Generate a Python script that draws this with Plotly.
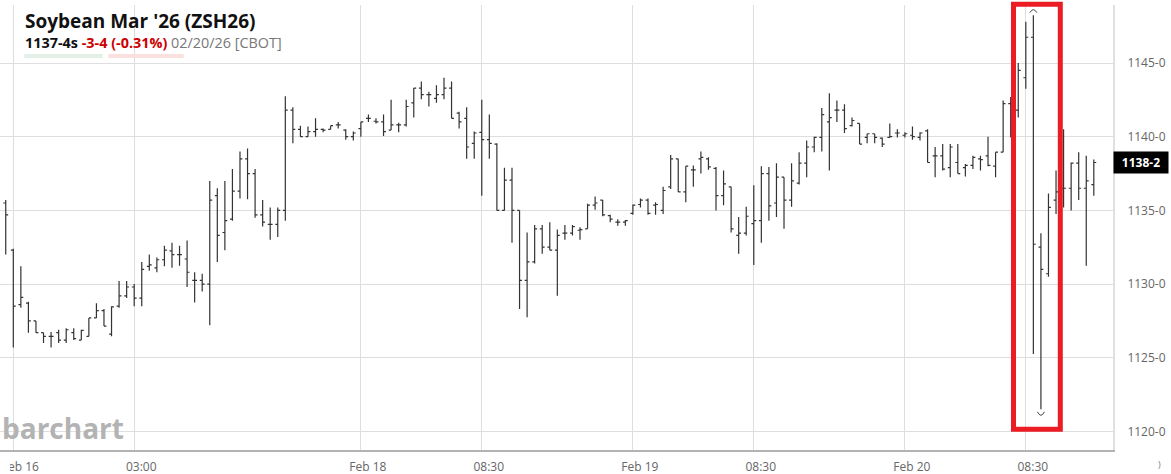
import plotly.graph_objects as go

# ---------------- data (30-minute bars, slot index; slot 0 = Feb 16 19:00) ----------------
bar_slot = list(range(-1, 144))

opens = [1135.5, 1132.3, 1128.6, 1128.7, 1127.5, 1126.7, 1126.45, 1126.7, 1126.2, 1126.7,
         1126.2, 1126.45, 1127.7, 1128.2, 1126.6, 1128.5, 1129.2, 1129.8, 1129.05, 1131.2,
         1131.1, 1131.65, 1132.25, 1132.0, 1131.7, 1130.25, 1130.25, 1130.0, 1136.0, 1133.5,
         1134.4, 1136.3, 1138.5, 1137.5, 1134.7, 1134.05, 1134.05, 1135.0, 1141.8, 1140.5,
         1140.0, 1140.35, 1140.5, 1140.5, 1140.8, 1140.45, 1140.0, 1140.55, 1141.25, 1141.05,
         1141.0, 1140.45, 1140.8, 1140.8, 1142.3, 1143.3, 1142.85, 1142.6, 1142.85, 1143.3,
         1141.6, 1141.25, 1139.55, 1140.3, 1139.8, 1139.5, 1135.0, 1137.05, 1135.0, 1130.25,
         1131.5, 1133.75, 1132.5, 1132.3, 1133.45, 1133.45, 1133.65, 1133.75, 1135.35, 1135.7,
         1134.65, 1134.2, 1134.2, 1134.8, 1135.4, 1135.7, 1135.35, 1135.0, 1136.6, 1138.5,
         1136.25, 1137.75, 1138.5, 1138.5, 1137.85, 1136.0, 1136.6, 1133.3, 1133.45, 1134.1,
         1134.3, 1137.5, 1135.5, 1137.25, 1135.7, 1136.85, 1138.2, 1139.3, 1139.95, 1141.0,
         1141.8, 1141.8, 1140.75, 1140.9, 1139.95, 1140.2, 1139.9, 1139.95, 1140.25, 1140.1,
         1140.1, 1139.95, 1140.4, 1138.7, 1138.7, 1137.9, 1138.25, 1137.9, 1138.05, 1138.5,
         1138.7, 1138.0, 1138.95, 1142.25, 1141.8, 1144.0, 1146.75, 1132.5, 1130.7, 1135.7,
         1136.5, 1136.5, 1138.2, 1136.5, 1136.75]

highs = [1135.7, 1132.4, 1131.2, 1128.8, 1127.5, 1126.7, 1126.75, 1126.9, 1127.0, 1127.0,
         1126.9, 1127.7, 1128.7, 1128.3, 1128.5, 1130.2, 1130.2, 1130.0, 1131.5, 1132.0,
         1131.8, 1132.6, 1132.8, 1132.6, 1132.95, 1130.8, 1130.7, 1137.0, 1136.5, 1137.0,
         1137.8, 1139.0, 1139.2, 1137.8, 1135.7, 1135.2, 1135.2, 1142.75, 1142.0, 1140.75,
         1140.7, 1141.25, 1140.55, 1140.75, 1141.0, 1140.5, 1140.35, 1141.0, 1141.5, 1141.25,
         1141.5, 1142.5, 1140.95, 1142.5, 1143.3, 1143.75, 1143.05, 1143.5, 1144.0, 1143.75,
         1141.7, 1142.0, 1140.35, 1142.5, 1141.5, 1139.55, 1137.9, 1137.9, 1135.0, 1133.5,
         1134.0, 1134.0, 1134.2, 1133.7, 1134.0, 1134.0, 1133.85, 1135.45, 1135.95, 1135.7,
         1134.7, 1134.4, 1134.35, 1135.4, 1135.8, 1135.8, 1135.55, 1136.6, 1138.75, 1138.5,
         1138.0, 1138.05, 1139.0, 1138.6, 1137.95, 1137.7, 1136.6, 1134.55, 1135.25, 1136.7,
         1138.0, 1137.95, 1138.2, 1137.25, 1138.2, 1138.95, 1139.75, 1140.0, 1141.95, 1142.95,
         1142.45, 1142.2, 1141.3, 1140.9, 1140.2, 1140.2, 1139.95, 1140.9, 1140.5, 1140.3,
         1140.7, 1140.3, 1140.5, 1139.3, 1139.5, 1139.5, 1139.5, 1138.15, 1138.7, 1138.7,
         1140.0, 1138.95, 1142.45, 1142.7, 1145.0, 1147.8, 1148.25, 1133.45, 1136.15, 1137.7,
         1140.5, 1138.25, 1138.95, 1138.7, 1138.45]

lows = [1132.0, 1125.7, 1128.4, 1126.7, 1126.7, 1126.0, 1125.7, 1126.0, 1126.0, 1126.2,
        1126.2, 1126.45, 1127.7, 1127.15, 1126.45, 1128.4, 1129.05, 1128.5, 1128.5, 1130.9,
        1130.8, 1131.2, 1131.1, 1131.25, 1129.8, 1128.75, 1129.5, 1127.2, 1131.5, 1132.3,
        1134.3, 1135.8, 1135.75, 1134.5, 1133.9, 1133.0, 1133.2, 1134.3, 1139.55, 1140.0,
        1140.0, 1140.0, 1140.3, 1140.5, 1140.55, 1139.8, 1139.75, 1140.0, 1141.0, 1140.9,
        1140.05, 1140.45, 1140.3, 1140.7, 1141.3, 1142.55, 1142.05, 1142.3, 1142.55, 1141.25,
        1140.55, 1138.5, 1138.5, 1136.0, 1138.5, 1135.0, 1135.0, 1132.8, 1128.3, 1127.75,
        1131.4, 1132.05, 1132.3, 1129.2, 1133.0, 1133.3, 1133.0, 1133.75, 1135.05, 1134.6,
        1134.2, 1133.95, 1133.95, 1134.7, 1135.2, 1134.7, 1134.7, 1134.75, 1136.45, 1136.25,
        1135.55, 1136.6, 1137.5, 1137.75, 1135.0, 1135.35, 1133.5, 1132.05, 1133.3, 1131.3,
        1132.8, 1134.3, 1134.55, 1133.75, 1135.25, 1136.75, 1137.25, 1138.95, 1139.0, 1137.7,
        1141.0, 1140.25, 1140.7, 1139.5, 1139.55, 1139.55, 1139.3, 1139.95, 1139.95, 1139.95,
        1139.8, 1139.75, 1138.25, 1137.25, 1137.7, 1137.25, 1137.5, 1137.3, 1137.8, 1137.7,
        1138.0, 1137.25, 1138.95, 1139.95, 1141.3, 1143.25, 1125.25, 1121.5, 1130.5, 1134.75,
        1135.2, 1135.0, 1135.7, 1131.25, 1136.0]

closes = [1134.7, 1128.5, 1129.1, 1127.5, 1126.7, 1126.45, 1126.45, 1126.2, 1126.9, 1126.3,
          1126.85, 1127.7, 1128.2, 1127.15, 1128.45, 1129.2, 1129.8, 1129.05, 1131.0, 1131.3,
          1131.65, 1132.3, 1132.0, 1132.0, 1130.8, 1130.25, 1130.0, 1135.7, 1133.3, 1134.3,
          1136.3, 1138.5, 1137.5, 1134.7, 1134.2, 1134.05, 1135.0, 1141.8, 1140.5, 1140.0,
          1140.35, 1140.5, 1140.45, 1140.75, 1140.8, 1140.0, 1140.25, 1141.0, 1141.25, 1141.0,
          1140.35, 1140.8, 1140.8, 1142.05, 1143.3, 1142.85, 1142.85, 1142.85, 1143.3, 1141.25,
          1141.0, 1139.3, 1140.25, 1139.8, 1139.55, 1135.0, 1137.05, 1135.0, 1130.25, 1131.5,
          1133.75, 1132.5, 1132.3, 1133.3, 1133.45, 1133.9, 1133.7, 1135.35, 1135.5, 1134.7,
          1134.4, 1134.2, 1134.3, 1135.35, 1135.7, 1134.8, 1135.4, 1136.35, 1138.5, 1136.25,
          1138.0, 1137.75, 1138.6, 1137.95, 1136.0, 1136.8, 1133.75, 1133.45, 1134.6, 1134.3,
          1137.5, 1135.3, 1137.25, 1135.7, 1137.0, 1138.2, 1139.3, 1139.95, 1141.5, 1141.3,
          1141.8, 1140.55, 1141.1, 1139.5, 1140.2, 1139.95, 1139.5, 1140.0, 1140.25, 1140.2,
          1140.0, 1140.25, 1138.25, 1138.7, 1137.8, 1139.3, 1137.5, 1138.05, 1138.6, 1138.45,
          1138.05, 1138.95, 1142.25, 1141.5, 1144.5, 1146.75, 1132.7, 1131.0, 1135.2, 1136.25,
          1136.5, 1138.2, 1136.5, 1137.0, 1138.25]

x_tick_slots = [0, 16, 46, 62, 82, 98, 118, 134]
x_tick_labels = ["Feb 16", "03:00", "Feb 18", "08:30", "Feb 19", "08:30", "Feb 20", "08:30"]

y_tick_values = [1120, 1125, 1130, 1135, 1140, 1145]
y_tick_labels = ["1120-0", "1125-0", "1130-0", "1135-0", "1140-0", "1145-0"]

title_text = "Soybean Mar '26 (ZSH26)"
last_text = "1137-4s"
change_text = "-3-4 (-0.31%)"
date_text = "02/20/26 [CBOT]"


def fmt_eighths(v):
    whole = int(v)
    return f"{whole}-{int(round((v - whole) * 8))}"


# ---------------- layout geometry (pixels) ----------------
W, H = 1171, 474
PL, PR, PT, PB = 0, 1113, 5, 450
PW, PH = PR - PL, PB - PT


def px(x):
    return (x - PL) / PW


def py(y):
    return (PB - y) / PH


FONT = "Open Sans"
BAR = "#333333"
GRID = "#dedede"

fig = go.Figure()
fig.add_trace(go.Ohlc(
    x=bar_slot, open=opens, high=highs, low=lows, close=closes,
    increasing=dict(line=dict(color=BAR, width=1.2)),
    decreasing=dict(line=dict(color=BAR, width=1.2)),
    tickwidth=0.32, showlegend=False, hoverinfo="skip",
))

shapes = []
# red highlight box
shapes.append(dict(type="rect", xref="paper", yref="paper",
                   x0=px(1013.5), x1=px(1060.3), y0=py(429.2), y1=py(4.2),
                   line=dict(color="#ec1c24", width=5), fillcolor="rgba(0,0,0,0)", layer="above"))
# header underline pills
shapes.append(dict(type="rect", xref="paper", yref="paper",
                   x0=px(24.3), x1=px(102.7), y0=py(58), y1=py(54),
                   line=dict(width=0), fillcolor="#e4efe8", layer="above"))
shapes.append(dict(type="rect", xref="paper", yref="paper",
                   x0=px(108.3), x1=px(183.7), y0=py(58), y1=py(54),
                   line=dict(width=0), fillcolor="#fbe0e0", layer="above"))
# highest high / lowest low markers
hi_i = max(range(len(highs)), key=lambda i: highs[i])
lo_i = min(range(len(lows)), key=lambda i: lows[i])
shapes.append(dict(type="path", xref="x", yref="y", xsizemode="pixel", ysizemode="pixel",
                   xanchor=bar_slot[hi_i], yanchor=highs[hi_i],
                   path="M -3.5,2.5 Q 0,8.5 3.5,2.5", line=dict(color="#444", width=1)))
shapes.append(dict(type="path", xref="x", yref="y", xsizemode="pixel", ysizemode="pixel",
                   xanchor=bar_slot[lo_i], yanchor=lows[lo_i],
                   path="M -3.5,-2.5 Q 0,-9.5 3.5,-2.5", line=dict(color="#444", width=1)))
# left clip of first date label
shapes.append(dict(type="rect", xref="paper", yref="paper",
                   x0=px(-2), x1=px(10), y0=py(474), y1=py(453),
                   line=dict(width=0), fillcolor="white", layer="above"))

annotations = [
    dict(xref="paper", yref="paper", x=px(23), y=py(21), xanchor="left", yanchor="middle",
         text=f"<b>{title_text}</b>", showarrow=False,
         font=dict(family=FONT, size=19, color="#111")),
    dict(xref="paper", yref="paper", x=px(23), y=py(42), xanchor="left", yanchor="middle",
         text=(f"<b>{last_text}</b> <b><span style='color:#cc0000'>{change_text}</span></b> "
               f"<span style='color:#777777'>{date_text}</span>"),
         showarrow=False, font=dict(family=FONT, size=14.4, color="#111")),
    dict(xref="paper", yref="paper", x=px(0), y=py(428), xanchor="left", yanchor="middle",
         text="barchart", showarrow=False,
         font=dict(family=FONT, size=28, color="#b3b3b3", weight=700)),
    dict(xref="paper", yref="y", x=1.0, y=closes[-1], xanchor="left", yanchor="middle",
         text=f"<b>{fmt_eighths(closes[-1])}</b>", showarrow=False,
         bgcolor="#000000", width=50, height=17, borderpad=2, align="center",
         font=dict(family=FONT, size=12, color="#ffffff")),
    dict(xref="paper", yref="paper", x=px(1159), y=py(464), xanchor="center", yanchor="middle",
         text=")", showarrow=False, font=dict(family=FONT, size=9, color="#777")),
]

fig.update_layout(
    width=W, height=H,
    margin=dict(l=PL, r=W - PR, t=PT, b=H - PB, pad=0),
    paper_bgcolor="white", plot_bgcolor="white",
    shapes=shapes, annotations=annotations,
    font=dict(family=FONT, size=12, color="#666"),
    xaxis=dict(
        range=[(PL - 13.3 - PL) / 7.556, (PR - 13.3) / 7.556],
        tickmode="array", tickvals=x_tick_slots, ticktext=x_tick_labels,
        showgrid=True, gridcolor=GRID, gridwidth=1,
        zeroline=False, showline=True, linecolor="#b3b3b3", linewidth=2,
        ticks="", ticklabelshift=7, ticklabelstandoff=5,
        tickfont=dict(family=FONT, size=12, color="#666"),
        rangeslider=dict(visible=False), fixedrange=True,
    ),
    yaxis=dict(
        side="right",
        range=[1140 - (PB - 136.7) / 14.735, 1140 + (136.7 - PT) / 14.735],
        tickmode="array", tickvals=y_tick_values, ticktext=y_tick_labels,
        showgrid=True, gridcolor=GRID, gridwidth=1,
        zeroline=False, showline=True, linecolor="#e0e0e0", linewidth=2,
        ticks="", ticklabelstandoff=10,
        tickfont=dict(family=FONT, size=12, color="#666"),
        fixedrange=True,
    ),
)

fig.write_html(
    "out.html",
    config={"displayModeBar": False},
    post_script="document.body.style.margin='0';document.body.style.overflow='hidden';",
)
